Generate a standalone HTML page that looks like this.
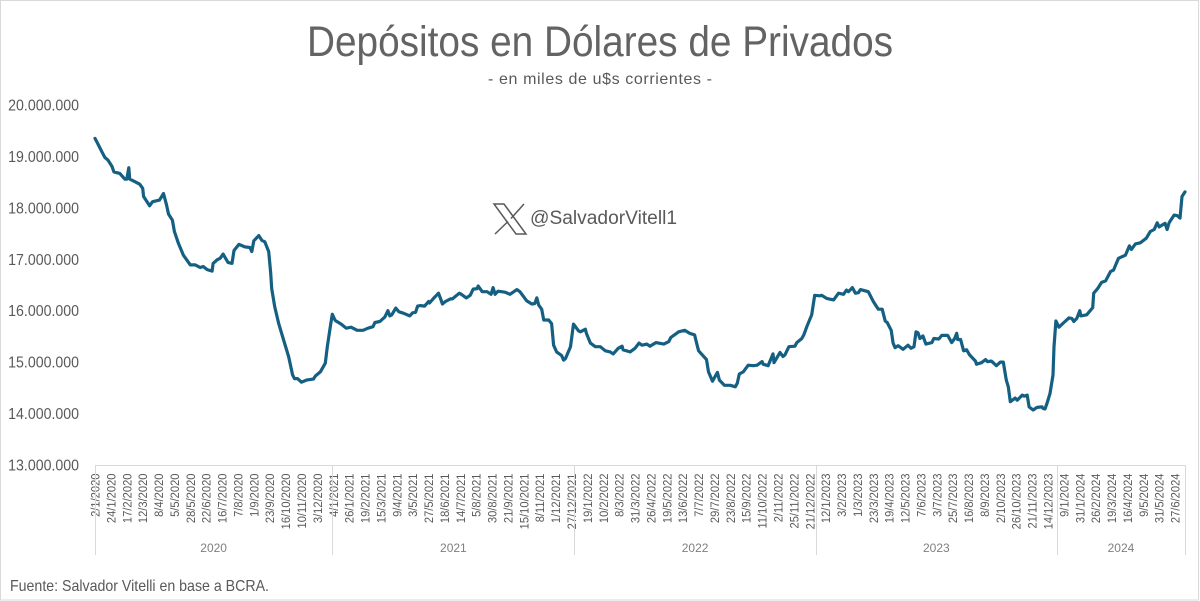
<!DOCTYPE html>
<html lang="es">
<head>
<meta charset="utf-8">
<title>Depósitos en Dólares de Privados</title>
<style>
html,body{margin:0;padding:0;background:#fff;}
svg{display:block;font-family:"Liberation Sans",sans-serif;}
</style>
</head>
<body>
<svg id="chart" xmlns="http://www.w3.org/2000/svg" width="1200" height="601" viewBox="0 0 1200 601">
  <rect x="0.5" y="0.5" width="1198" height="599.5" fill="#fff" stroke="#d9d9d9"/>
  <text x="600" y="56" text-anchor="middle" font-size="43" fill="#636363" textLength="586" lengthAdjust="spacingAndGlyphs">Depósitos en Dólares de Privados</text>
  <text x="600" y="84" text-anchor="middle" font-size="16" fill="#595959" textLength="224" lengthAdjust="spacing">- en miles de u$s corrientes -</text>
  <g id="yAxis"></g>
  <g id="xAxis"></g>
  <g id="series"></g>
  <g fill="none" stroke="#595959" stroke-width="1.5">
    <path d="M494 204H504L526 234H516Z"/>
    <path d="M524 204L511 218.500M508 221.500L495 234"/>
  </g>
  <text x="530" y="224" font-size="19" fill="#595959" textLength="147" lengthAdjust="spacingAndGlyphs">@SalvadorVitell1</text>
  <text x="10" y="591" font-size="16" fill="#595959" textLength="259" lengthAdjust="spacingAndGlyphs">Fuente: Salvador Vitelli en base a BCRA.</text>
</svg>
<script>
const yTickValues = [13, 14, 15, 16, 17, 18, 19, 20];
const yTickLabels = ["13.000.000", "14.000.000", "15.000.000", "16.000.000", "17.000.000", "18.000.000", "19.000.000", "20.000.000"];
const xTickLabels = ["2/1/2020","24/1/2020","17/2/2020","12/3/2020","8/4/2020","5/5/2020","28/5/2020","22/6/2020","16/7/2020","7/8/2020","1/9/2020","23/9/2020","16/10/2020","10/11/2020","3/12/2020","4/1/2021","26/1/2021","19/2/2021","15/3/2021","9/4/2021","3/5/2021","27/5/2021","18/6/2021","14/7/2021","5/8/2021","30/8/2021","21/9/2021","15/10/2021","8/11/2021","1/12/2021","27/12/2021","19/1/2022","10/2/2022","8/3/2022","31/3/2022","26/4/2022","19/5/2022","13/6/2022","7/7/2022","29/7/2022","23/8/2022","15/9/2022","11/10/2022","2/11/2022","25/11/2022","21/12/2022","12/1/2023","3/2/2023","1/3/2023","23/3/2023","19/4/2023","12/5/2023","7/6/2023","3/7/2023","25/7/2023","16/8/2023","8/9/2023","2/10/2023","26/10/2023","21/11/2023","14/12/2023","9/1/2024","31/1/2024","26/2/2024","19/3/2024","16/4/2024","9/5/2024","31/5/2024","27/6/2024"];
const years = ["2020", "2021", "2022", "2023", "2024"];
const yearStartObs = [0, 239, 483, 726, 969];
const totalObs = 1098;
const tickEveryObs = 16;
const obs = [0,3,7,10,13,17,19,25,30,32,34,35,40,45,48,49,55,58,65,69,72,74,78,80,84,89,96,101,106,109,113,118,119,123,126,129,134,138,140,145,151,156,158,160,165,168,171,175,177,178,181,185,190,195,199,201,204,208,213,220,222,227,232,234,237,239,242,248,253,258,264,270,275,280,282,287,292,295,297,299,303,306,311,317,320,323,325,328,332,336,337,341,346,348,350,353,358,360,367,369,374,378,381,385,386,390,395,399,401,403,406,413,418,425,428,435,440,443,445,447,450,452,457,460,462,465,470,472,474,479,482,487,489,494,495,499,504,509,514,519,522,527,531,532,539,544,548,551,556,559,565,573,578,580,588,594,599,604,606,608,616,618,622,627,629,634,640,645,647,649,653,658,663,667,672,673,678,683,684,690,693,695,699,705,707,712,714,717,722,725,730,732,737,744,749,754,757,759,763,766,769,771,779,784,789,793,796,798,802,804,806,809,814,819,822,825,827,829,831,834,837,843,845,850,853,859,863,866,868,869,872,875,878,881,887,888,893,897,899,903,908,912,915,918,920,922,927,929,934,936,939,941,945,949,954,955,957,959,962,965,966,968,971,976,981,984,986,989,992,993,999,1005,1006,1010,1014,1018,1023,1026,1031,1038,1042,1044,1048,1053,1059,1063,1067,1070,1072,1078,1080,1082,1087,1090,1093,1095,1098];
const depositsMillions = [19.35,19.24,19.09,18.98,18.93,18.81,18.70,18.67,18.56,18.56,18.78,18.56,18.51,18.46,18.38,18.22,18.04,18.12,18.15,18.28,18.06,17.88,17.76,17.54,17.31,17.08,16.89,16.89,16.84,16.86,16.80,16.77,16.92,16.99,17.02,17.10,16.94,16.92,17.17,17.29,17.24,17.23,17.15,17.36,17.46,17.37,17.34,17.15,16.73,16.43,16.08,15.75,15.43,15.11,14.75,14.68,14.68,14.61,14.65,14.67,14.73,14.81,14.98,15.30,15.69,15.93,15.81,15.74,15.66,15.68,15.62,15.62,15.66,15.69,15.77,15.79,15.88,16.00,15.90,15.92,16.05,15.98,15.95,15.90,15.96,15.97,16.09,16.10,16.09,16.18,16.15,16.24,16.34,16.24,16.13,16.18,16.23,16.23,16.34,16.32,16.25,16.30,16.42,16.43,16.48,16.37,16.37,16.32,16.45,16.32,16.38,16.36,16.32,16.41,16.37,16.19,16.13,16.14,16.25,16.11,16.03,15.82,15.82,15.75,15.33,15.20,15.13,15.04,15.07,15.30,15.74,15.61,15.59,15.64,15.56,15.37,15.30,15.30,15.22,15.20,15.16,15.27,15.31,15.24,15.20,15.27,15.37,15.33,15.35,15.31,15.38,15.35,15.40,15.48,15.59,15.62,15.56,15.53,15.37,15.22,15.05,14.81,14.63,14.80,14.65,14.55,14.55,14.52,14.59,14.77,14.81,14.94,14.93,14.94,15.01,14.96,14.93,15.16,14.99,15.19,15.11,15.14,15.30,15.31,15.38,15.46,15.53,15.69,15.92,16.30,16.29,16.30,16.24,16.21,16.34,16.32,16.40,16.37,16.45,16.34,16.35,16.41,16.37,16.18,16.03,16.03,15.80,15.77,15.62,15.37,15.28,15.32,15.25,15.33,15.27,15.30,15.59,15.57,15.46,15.51,15.35,15.38,15.46,15.45,15.52,15.52,15.38,15.46,15.56,15.44,15.44,15.22,15.24,15.14,15.02,14.96,14.99,15.05,15.01,15.02,14.93,15.00,15.00,14.65,14.52,14.23,14.30,14.26,14.36,14.34,14.36,14.13,14.07,14.12,14.13,14.10,14.09,14.20,14.39,14.75,15.30,15.80,15.68,15.77,15.86,15.85,15.79,15.85,16.00,15.90,15.92,16.06,16.34,16.43,16.55,16.58,16.76,16.79,17.02,17.08,17.26,17.19,17.30,17.32,17.41,17.54,17.58,17.71,17.63,17.70,17.58,17.71,17.86,17.85,17.80,18.22,18.31];

const NS = "http://www.w3.org/2000/svg";
const plotLeft = 95, plotRight = 1185, plotBottom = 465, plotTop = 105;
function xScale(i) { return plotLeft + i * (plotRight - plotLeft) / totalObs; }
function yScale(v) {
  return plotBottom - (v - yTickValues[0]) * (plotBottom - plotTop) / (yTickValues[yTickValues.length - 1] - yTickValues[0]);
}
function make(tag, attrs, parent, txt) {
  const el = document.createElementNS(NS, tag);
  for (const k in attrs) el.setAttribute(k, attrs[k]);
  if (txt !== undefined) el.textContent = txt;
  parent.appendChild(el);
  return el;
}
const yAxis = document.getElementById("yAxis");
const xAxis = document.getElementById("xAxis");
const seriesLayer = document.getElementById("series");

yTickValues.forEach(function (v, k) {
  const t = make("text", {transform: "translate(79," + (yScale(v) + 5.5) + ") scale(0.92,1)", "text-anchor": "end", "font-size": 15.4, fill: "#595959"}, yAxis, yTickLabels[k]);
  
  
});

const axisLine = make("line", {x1: plotLeft, x2: plotRight, y1: plotBottom + 0.5, y2: plotBottom + 0.5, stroke: "#d9d9d9", "stroke-width": 1}, xAxis);



xTickLabels.forEach(function (lab, k) {
  const x = xScale(k * tickEveryObs) + 4.5;
  const t = make("text", {transform: "translate(" + x + ",473.5) rotate(-90) scale(0.93,1)", "text-anchor": "end", "font-size": 12, fill: "#595959"}, xAxis, lab);
  
  
});

yearStartObs.concat([totalObs]).forEach(function (o) {
  const x = Math.round(xScale(o)) + 0.5;
  const d = make("line", {x1: x, x2: x, y1: plotBottom, y2: 555, stroke: "#d9d9d9", "stroke-width": 1}, xAxis);
  
  
});

years.forEach(function (yr, k) {
  const end = k + 1 < yearStartObs.length ? yearStartObs[k + 1] : totalObs;
  const t = make("text", {x: xScale((yearStartObs[k] + end) / 2), y: 552, "text-anchor": "middle", "font-size": 12, fill: "#7f7f7f"}, xAxis, yr);
  
  
});

const pts = depositsMillions.map(function (v, i) {
  return xScale(obs[i]).toFixed(1) + "," + yScale(v).toFixed(1);
}).join(" ");
const line = make("polyline", {points: pts, fill: "none", stroke: "#156082", "stroke-width": 3.2, "stroke-linejoin": "round", "stroke-linecap": "round"}, seriesLayer);


</script>
</body>
</html>
